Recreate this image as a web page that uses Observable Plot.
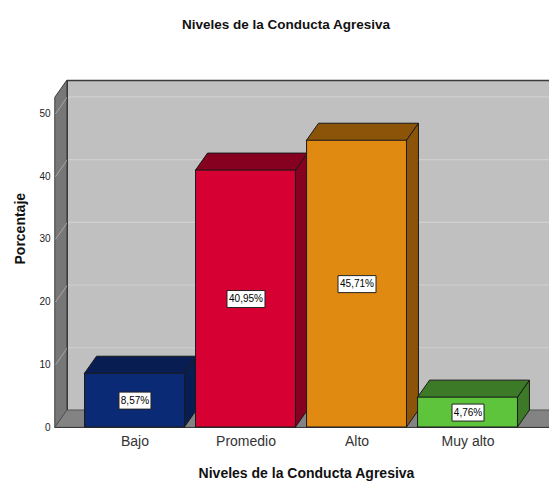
<!DOCTYPE html>
<html><head><meta charset="utf-8">
<script src="https://cdn.jsdelivr.net/npm/d3@7"></script>
<script src="https://cdn.jsdelivr.net/npm/@observablehq/plot@0.6"></script>
<style>
html,body{margin:0;padding:0;background:#fff;overflow:hidden;width:549px;height:484px;}
#title{height:50px;width:549px;box-sizing:border-box;padding-left:23px;text-align:center;font:bold 13.5px "Liberation Sans",Arial,sans-serif;line-height:50px;color:#111;}
svg{overflow:hidden;display:block;}
</style>
</head><body>
<div id="title">Niveles de la Conducta Agresiva</div>
<div id="chart"></div>
<script>
const categories = ["Bajo", "Promedio", "Alto", "Muy alto"];
const values = [8.57, 40.95, 45.71, 4.76];
const valueLabels = ["8,57%", "40,95%", "45,71%", "4,76%"];
const yTicks = [0, 10, 20, 30, 40, 50];
const frontColors = ["#0b2a76", "#d70032", "#e08a12", "#5ec43c"];
const shadeColors = ["#081e52", "#86001f", "#8b5409", "#3c7a27"];
const yMax = 52.6;
const xDomain = [-0.716, 3.734];
const DX = 0.108, DY = 2.71, HW = 0.45;

const bars = categories.map((c, i) => ({c, i, v: values[i], label: valueLabels[i], front: frontColors[i], shade: shadeColors[i]}));
const sides = bars.flatMap(b => [
  {c: b.c, x: b.i + HW, y1: 0, y2: b.v, fill: b.shade},
  {c: b.c, x: b.i + HW + DX, y1: DY, y2: b.v + DY, fill: b.shade}
]);
const tops = bars.flatMap(b => [
  {c: b.c, y: b.v, x1: b.i - HW, x2: b.i + HW, fill: b.shade},
  {c: b.c, y: b.v + DY, x1: b.i - HW + DX, x2: b.i + HW + DX, fill: b.shade}
]);
const [X0, X1] = xDomain;
const leftWall = [{x: X0, y1: 0, y2: yMax}, {x: X0 + DX, y1: DY, y2: yMax + DY}];
const floor = [{y: 0, x1: X0, x2: X1}, {y: DY, x1: X0 + DX, x2: X1 + DX}];
const gridTicks = yTicks.filter(t => t > 0);
const boxSymbol = {draw(ctx, size) { const r = Math.sqrt(size / Math.PI); ctx.rect(-r, -8.5, 2 * r, 17); }};

const plot = Plot.plot({
  width: 549, height: 434,
  marginLeft: 55, marginRight: 0, marginTop: 47, marginBottom: 57,
  style: {fontFamily: "'Liberation Sans', Arial, sans-serif", overflow: "hidden"},
  x: {type: "linear", domain: xDomain},
  y: {domain: [0, yMax]},
  r: {type: "identity"},
  marks: [
    Plot.rect([0], {x1: X0 + DX, x2: X1 + DX, y1: DY, y2: yMax + DY, fill: "#c0c0c0"}),
    Plot.ruleY(gridTicks, {y: d => d + DY, x1: X0 + DX, x2: X1 + DX, stroke: "#d0d0d0", strokeWidth: 1.2}),
    Plot.areaY(leftWall, {x: "x", y1: "y1", y2: "y2", fill: "#777777", stroke: "#3a3a3a", strokeWidth: 1}),
    Plot.link(gridTicks, {x1: X0, y1: d => d, x2: X0 + DX, y2: d => d + DY, stroke: "#a6a6a6"}),
    Plot.areaX(floor, {y: "y", x1: "x1", x2: "x2", fill: "#838383", stroke: "#555", strokeWidth: 1}),
    Plot.ruleY([yMax + DY], {x1: X0 + DX, x2: X1 + DX, stroke: "#3a3a3a", strokeWidth: 1.5}),
    Plot.ruleX([X0 + DX], {y1: DY, y2: yMax + DY, stroke: "#3a3a3a", strokeWidth: 1}),
    Plot.ruleY([0], {x1: X0, x2: X1, stroke: "#3a3a3a", strokeWidth: 1}),
    Plot.areaY(sides, {x: "x", y1: "y1", y2: "y2", z: "c", fill: "fill", stroke: "#1a1a1a", strokeWidth: 1}),
    Plot.areaX(tops, {y: "y", x1: "x1", x2: "x2", z: "c", fill: "fill", stroke: "#1a1a1a", strokeWidth: 1}),
    Plot.rect(bars, {x1: d => d.i - HW, x2: d => d.i + HW, y1: 0, y2: "v", fill: "front", stroke: "#1a1a1a", strokeWidth: 1}),
    Plot.dot(bars, {x: "i", y: d => d.v / 2, r: d => d.label.length * 3 + 1, symbol: boxSymbol, fill: "white", stroke: "#222", strokeWidth: 1}),
    Plot.text(bars, {x: "i", y: d => d.v / 2, text: "label", fontSize: 10, fill: "#000"}),
    Plot.axisY({ticks: yTicks, tickSize: 0, tickPadding: 5, fontSize: 10, label: null, fill: "#222"}),
    Plot.axisX({ticks: [0, 1, 2, 3], tickFormat: i => categories[i], tickSize: 0, tickPadding: 9, fontSize: 14, label: null, fill: "#333"}),
    Plot.text(["Porcentaje"], {frameAnchor: "left", lineAnchor: "middle", rotate: -90, dx: -35, dy: 2, fontSize: 14, fontWeight: "bold", fill: "#111"}),
    Plot.text(["Niveles de la Conducta Agresiva"], {frameAnchor: "bottom", lineAnchor: "middle", dx: 4, dy: 46, fontSize: 14, fontWeight: "bold", fill: "#111"})
  ]
});
document.getElementById("chart").appendChild(plot);
</script>
</body></html>
